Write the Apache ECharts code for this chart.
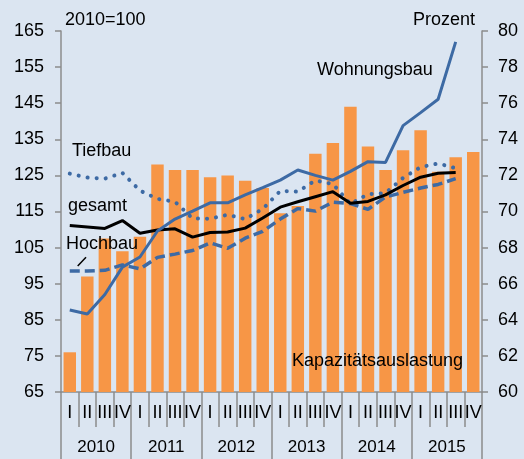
<!DOCTYPE html>
<html>
<head>
<meta charset="utf-8">
<script src="https://cdn.jsdelivr.net/npm/echarts@6/dist/echarts.min.js"></script>
<style>
html,body{margin:0;padding:0;background:#dbe5f1;}
#c{width:524px;height:459px;}
</style>
</head>
<body>
<div id="c"></div>
<script>
var quarters = ['I','II','III','IV','I','II','III','IV','I','II','III','IV','I','II','III','IV','I','II','III','IV','I','II','III','IV'];
var years = ['2010','2011','2012','2013','2014','2015'];
var leftTicks = [65,75,85,95,105,115,125,135,145,155,165];
var kapazitaet = [62.2,66.4,68.5,67.8,68.6,72.6,72.3,72.3,71.9,72.0,71.7,71.3,69.9,70.3,73.2,73.8,75.8,73.6,72.3,73.4,74.5,72.2,73.0,73.3];
var wohnungsbau = [87.7,86.6,92.0,99.6,102.4,109.6,112.9,115.1,117.4,117.4,119.6,121.6,123.7,126.5,125.0,123.7,126.1,128.8,128.6,138.8,142.4,146.1,162.0];
var gesamt = [111.1,110.7,110.3,112.5,109.0,109.9,110.2,107.9,109.2,109.3,110.4,113.2,116.2,117.7,119.1,120.5,117.3,117.8,119.6,122.2,124.5,125.6,125.8];
var tiefbau = [125.5,124.4,124.1,125.7,120.8,118.5,117.7,113.1,113.0,114.1,112.9,115.7,120.7,120.5,123.6,122.6,117.1,119.8,120.1,124.3,127.3,128.3,127.0];
var hochbau = [98.5,98.5,98.7,100.2,99.1,102.3,103.2,104.2,106.3,104.8,107.6,109.5,112.9,115.8,115.1,117.6,117.2,115.6,119.0,120.3,121.5,122.5,124.1];

var FONT = '"Liberation Sans", Arial, sans-serif';
var AX = '#8c8c8c';
var BLUE = '#3d6aa4';
var ORANGE = '#f79646';

function txt(t, x, y, align) {
  return {type:'text', z:100, style:{text:t, x:x, y:y, font:'18px ' + FONT, fill:'#000',
    textAlign:align||'left', align:align||'left', textVerticalAlign:'middle', verticalAlign:'middle'}};
}

var chart = echarts.init(document.getElementById('c'));
chart.setOption({
  backgroundColor:'#dbe5f1',
  animation:false,
  grid:{left:61, right:42, top:31, bottom:67, containLabel:false},
  xAxis:[{
    type:'category', data:quarters, position:'bottom', boundaryGap:true,
    axisLine:{show:true, lineStyle:{color:AX, width:1.5}},
    axisTick:{show:true, interval:0, length:35, lineStyle:{color:AX, width:1.5}},
    axisLabel:{interval:0, margin:12, fontSize:18, fontFamily:FONT, color:'#000'},
    splitLine:{show:false}
  },{
    type:'category', data:years, position:'bottom', offset:0, boundaryGap:true,
    axisLine:{show:false},
    axisTick:{show:true, interval:0, length:67, lineStyle:{color:AX, width:1.5}},
    axisLabel:{interval:0, margin:47, fontSize:17, fontFamily:FONT, color:'#000'},
    splitLine:{show:false}
  }],
  yAxis:[{
    type:'value', position:'left', min:65, max:165,
    axisLine:{show:true, lineStyle:{color:AX, width:1.5}},
    axisTick:{show:true, length:6, customValues:leftTicks, lineStyle:{color:AX, width:1.5}},
    axisLabel:{customValues:leftTicks, margin:17, fontSize:18, fontFamily:FONT, color:'#000'},
    splitLine:{show:false}
  },{
    type:'value', position:'right', min:60, max:80, interval:2,
    axisLine:{show:true, lineStyle:{color:AX, width:1.5}},
    axisTick:{show:true, length:6, lineStyle:{color:AX, width:1.5}},
    axisLabel:{margin:16, fontSize:18, fontFamily:FONT, color:'#000'},
    splitLine:{show:false}
  }],
  series:[{
    name:'Kapazitätsauslastung', type:'bar', xAxisIndex:0, yAxisIndex:1,
    data:kapazitaet, barCategoryGap:'29%', itemStyle:{color:ORANGE}, z:1
  },{
    name:'Hochbau', type:'line', xAxisIndex:0, yAxisIndex:0, data:hochbau,
    showSymbol:false, symbol:'none', lineStyle:{color:BLUE, width:3.5, type:[10,5]}, z:3
  },{
    name:'Tiefbau', type:'line', xAxisIndex:0, yAxisIndex:0, data:tiefbau,
    showSymbol:false, symbol:'none', lineStyle:{color:BLUE, width:4, type:[0.1,9], cap:'round'}, z:3
  },{
    name:'gesamt', type:'line', xAxisIndex:0, yAxisIndex:0, data:gesamt,
    showSymbol:false, symbol:'none', lineStyle:{color:'#000', width:3}, z:4
  },{
    name:'Wohnungsbau', type:'line', xAxisIndex:0, yAxisIndex:0, data:wohnungsbau,
    showSymbol:false, symbol:'none', lineStyle:{color:BLUE, width:3}, z:5
  }],
  graphic:[
    txt('2010=100', 65, 20),
    txt('Prozent', 475, 20, 'right'),
    txt('Wohnungsbau', 317, 70),
    txt('Tiefbau', 72, 151),
    txt('gesamt', 68, 206),
    txt('Hochbau', 66, 244),
    txt('Kapazitätsauslastung', 292, 361),
    {type:'line', z:100, shape:{x1:77.7, y1:266, x2:86, y2:257.3}, style:{stroke:'#000', lineWidth:1.5}}
  ]
});
</script>
</body>
</html>
